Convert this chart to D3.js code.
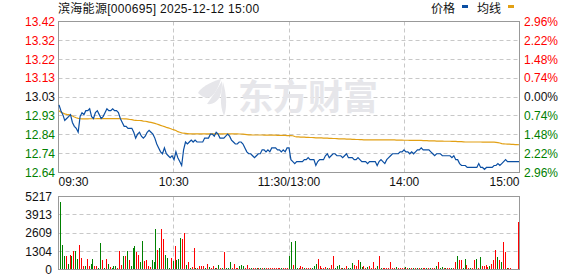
<!DOCTYPE html>
<html>
<head>
<meta charset="utf-8">
<script src="https://cdn.jsdelivr.net/npm/d3@7"></script>
<style>
  body { margin: 0; background: #fff; }
  text { font-family: "Liberation Sans", Arial, "Noto Sans CJK SC", sans-serif; font-size: 12px; }
</style>
</head>
<body>
<svg id="chart" width="578" height="276"></svg>
<script>
// intraday chart: price + average line, volume below

const title = "滨海能源[000695] 2025-12-12 15:00";
const prevClose = 13.03;
const maxPct = 2.96;
const volMax = 5217;

const priceTicks = ["13.42", "13.32", "13.22", "13.13", "13.03", "12.93", "12.84", "12.74", "12.64"];
const pctTicks = ["2.96%", "2.22%", "1.48%", "0.74%", "0.00%", "0.74%", "1.48%", "2.22%", "2.96%"];
const volTicks = ["5217", "3913", "2609", "1304", "0"];
const timeTicks = ["09:30", "10:30", "11:30/13:00", "14:00", "15:00"];
const timeTickIdx = [0, 60, 120, 180, 240];

// one value per minute, 09:30 .. 11:30, 13:01 .. 15:00
const prices = [
  12.99,12.96,12.94,12.91,12.92,12.93,12.94,12.90,12.88,12.87,
  12.85,12.93,12.95,12.94,12.96,12.96,12.97,12.93,12.92,12.95,
  12.96,12.94,12.92,12.93,12.95,12.97,12.96,12.96,12.97,12.96,
  12.96,12.95,12.92,12.90,12.88,12.88,12.87,12.87,12.87,12.85,
  12.82,12.84,12.85,12.83,12.82,12.83,12.85,12.86,12.85,12.84,
  12.82,12.79,12.77,12.75,12.74,12.77,12.74,12.73,12.72,12.73,
  12.71,12.75,12.72,12.70,12.68,12.76,12.80,12.79,12.80,12.81,
  12.80,12.81,12.80,12.80,12.80,12.80,12.82,12.82,12.82,12.84,
  12.84,12.83,12.85,12.84,12.82,12.82,12.82,12.83,12.84,12.83,
  12.81,12.80,12.79,12.79,12.80,12.80,12.79,12.77,12.75,12.74,
  12.74,12.73,12.72,12.73,12.74,12.74,12.76,12.76,12.75,12.76,
  12.75,12.77,12.77,12.77,12.76,12.76,12.75,12.76,12.75,12.77,
  12.77,12.71,12.70,12.69,12.70,12.70,12.70,12.70,12.71,12.71,
  12.72,12.71,12.71,12.71,12.68,12.70,12.71,12.71,12.71,12.73,
  12.74,12.72,12.73,12.74,12.74,12.73,12.73,12.73,12.72,12.73,
  12.74,12.72,12.72,12.72,12.71,12.71,12.72,12.71,12.70,12.70,
  12.70,12.69,12.70,12.70,12.70,12.70,12.68,12.70,12.71,12.70,
  12.69,12.71,12.72,12.73,12.74,12.74,12.74,12.74,12.75,12.75,
  12.76,12.75,12.75,12.74,12.75,12.74,12.75,12.76,12.76,12.77,
  12.76,12.76,12.76,12.76,12.75,12.74,12.73,12.74,12.74,12.74,
  12.73,12.73,12.73,12.73,12.73,12.72,12.73,12.71,12.71,12.69,
  12.68,12.68,12.68,12.67,12.67,12.67,12.67,12.67,12.67,12.69,
  12.67,12.67,12.66,12.67,12.67,12.67,12.67,12.68,12.68,12.69,
  12.68,12.69,12.70,12.71,12.70,12.70,12.70,12.70,12.70,12.70,
  12.70
];

const avgPrices = [
  12.960,12.952,12.948,12.944,12.941,12.940,12.938,12.933,12.928,12.924,
  12.921,12.919,12.918,12.918,12.918,12.918,12.919,12.919,12.919,12.919,
  12.920,12.920,12.920,12.920,12.920,12.920,12.920,12.920,12.920,12.920,
  12.920,12.920,12.919,12.919,12.918,12.918,12.917,12.915,12.914,12.912,
  12.911,12.910,12.910,12.909,12.907,12.906,12.904,12.902,12.900,12.898,
  12.895,12.892,12.889,12.885,12.882,12.879,12.875,12.872,12.869,12.865,
  12.862,12.859,12.853,12.850,12.847,12.845,12.844,12.843,12.842,12.842,
  12.842,12.842,12.842,12.842,12.842,12.842,12.842,12.842,12.842,12.842,
  12.842,12.842,12.842,12.842,12.842,12.842,12.842,12.842,12.842,12.842,
  12.842,12.842,12.842,12.842,12.841,12.841,12.840,12.839,12.838,12.837,
  12.837,12.836,12.836,12.836,12.836,12.836,12.836,12.835,12.835,12.835,
  12.835,12.835,12.835,12.835,12.834,12.834,12.834,12.834,12.834,12.833,
  12.833,12.833,12.832,12.828,12.826,12.826,12.825,12.825,12.825,12.824,
  12.824,12.823,12.823,12.822,12.821,12.821,12.821,12.821,12.820,12.820,
  12.820,12.819,12.819,12.818,12.818,12.817,12.816,12.816,12.816,12.816,
  12.815,12.815,12.815,12.814,12.814,12.813,12.813,12.812,12.812,12.811,
  12.811,12.811,12.811,12.811,12.811,12.811,12.811,12.811,12.811,12.811,
  12.811,12.811,12.811,12.811,12.811,12.811,12.810,12.810,12.810,12.810,
  12.809,12.809,12.809,12.808,12.808,12.808,12.808,12.808,12.808,12.808,
  12.807,12.807,12.807,12.806,12.806,12.806,12.806,12.805,12.805,12.805,
  12.805,12.804,12.804,12.804,12.804,12.803,12.803,12.803,12.802,12.802,
  12.802,12.801,12.800,12.800,12.800,12.800,12.800,12.800,12.800,12.800,
  12.800,12.799,12.799,12.799,12.799,12.799,12.799,12.799,12.798,12.797,
  12.795,12.792,12.791,12.790,12.789,12.789,12.788,12.788,12.787,12.787,
  12.786
];

const volumes = [
  4818,1763,940,987,423,1058,987,1293,1293,752,
  1763,822,282,235,752,282,423,752,235,282,
  118,1927,658,47,752,423,188,47,282,235,
  118,1293,352,987,940,1293,658,235,1528,1692,
  1222,1058,517,2068,587,705,282,188,705,517,
  2867,1410,1528,2867,2162,1058,822,47,822,587,
  1692,705,752,2233,2162,2632,352,517,118,188,
  1528,118,47,282,282,235,47,423,188,47,
  235,47,118,352,47,118,1222,47,47,517,
  118,423,47,47,282,352,282,47,352,118,
  47,118,47,47,118,47,47,118,47,47,
  47,47,118,47,47,47,47,47,47,47,
  987,1998,352,2068,47,47,282,188,47,118,
  47,47,118,282,423,752,282,47,47,188,
  47,47,352,987,47,282,352,47,47,47,
  282,118,47,470,329,282,705,564,188,282,
  47,188,282,47,517,47,282,987,47,47,
  118,47,47,517,47,47,188,47,47,118,
  118,188,118,47,47,47,47,47,118,47,
  47,47,118,47,47,47,47,282,517,47,
  188,47,47,47,118,47,118,517,987,658,
  705,47,752,352,47,47,47,705,752,118,
  893,282,282,352,188,282,423,705,1410,917,
  705,564,1974,1269,47,47,47,0,0,0,
  3384
];

// 1 = up minute (red bar), 0 = down minute (green bar)
const volUp = [
  0,0,0,1,0,1,0,1,0,0,
  1,1,1,0,1,1,0,0,1,1,
  0,0,1,0,1,0,1,0,0,0,
  1,1,1,0,1,0,1,0,0,0,
  1,1,0,0,1,1,1,1,0,0,
  0,1,0,1,1,0,0,0,1,0,
  1,0,0,0,1,1,0,1,0,1,
  1,0,1,1,1,1,0,1,0,1,
  1,0,1,0,1,0,1,0,0,0,
  1,1,1,1,0,0,0,1,1,1,
  0,1,1,0,1,0,1,0,1,1,
  1,1,1,1,1,1,0,1,1,1,
  0,0,1,0,0,1,1,1,0,1,
  1,1,0,0,0,1,1,1,1,1,
  0,1,1,1,0,0,0,1,0,1,
  1,0,0,0,1,1,1,0,0,1,
  1,0,1,1,1,1,0,1,0,1,
  1,1,1,1,1,1,0,1,1,1,
  1,0,1,0,1,0,1,0,1,0,
  1,1,0,1,0,1,1,0,1,0,
  0,1,0,1,1,0,1,1,0,1,
  1,0,0,1,1,0,1,1,0,1,
  0,1,1,1,1,0,1,1,1,0,
  1,0,1,1,0,1,1,1,1,1,
  1
];

const left = 58.5, right = 519.5;
const priceTop = 21.5, priceBottom = 172.5;
const volTop = 196.5, volBottom = 269.5;
const red = "#ff0000", green = "#008000", dark = "#111";

const svg = d3.select("#chart");
svg.append("rect").attr("width", 578).attr("height", 276).attr("fill", "#fff");

const x = d3.scaleLinear().domain([0, 240]).range([left, right]);
const xLine = d3.scaleLinear().domain([0, 240]).range([59, 519]);
const xBar = d3.scaleLinear().domain([0, 240]).range([60, 518]);
const y = d3.scaleLinear()
  .domain([prevClose * (1 - maxPct / 100), prevClose * (1 + maxPct / 100)])
  .range([priceBottom, priceTop]);
const yTick = d3.scalePoint().domain(d3.range(priceTicks.length)).range([priceTop, priceBottom]);
const yVol = d3.scaleLinear().domain([0, volMax]).range([volBottom, volTop]);
const yVolTick = d3.scalePoint().domain(d3.range(volTicks.length)).range([volTop, volBottom]);

const crisp = v => Math.floor(v) + 0.5;

// grid
const grid = svg.append("g").attr("stroke", "#c8c8c8").attr("stroke-dasharray", "4,3").attr("fill", "none");
d3.range(1, priceTicks.length - 1).forEach(k => {
  grid.append("line").attr("x1", left).attr("x2", right)
    .attr("y1", crisp(yTick(k))).attr("y2", crisp(yTick(k)));
});
d3.range(1, volTicks.length - 1).forEach(k => {
  grid.append("line").attr("x1", left).attr("x2", right)
    .attr("y1", crisp(yVolTick(k))).attr("y2", crisp(yVolTick(k)));
});
timeTickIdx.slice(1, -1).forEach(i => {
  const gx = crisp(x(i));
  grid.append("line").attr("x1", gx).attr("x2", gx).attr("y1", priceTop).attr("y2", priceBottom);
  grid.append("line").attr("x1", gx).attr("x2", gx).attr("y1", volTop).attr("y2", volBottom);
});

// watermark (sits over the grid)
const wm = svg.append("g").attr("fill", "#e6e6ea");
wm.append("path").attr("d", "M221,79 C210,82 200,88 198,93 C203,98 208,99 212,96 C216,92 219,86 221,79 Z");
wm.append("path").attr("d", "M222,81 C217,90 211,98 207,104 C213,105 218,101 220,96 C222,91 222,86 222,81 Z");
wm.append("path").attr("d", "M223,82 C221,93 219,104 224,116 C227,108 227,96 223,82 Z");
wm.append("text").attr("x", 238).attr("y", 110)
  .style("font-family", "'Noto Sans CJK SC', sans-serif").style("font-size", "35px").style("font-weight", "bold")
  .text("东方财富");

// frames
svg.append("rect").attr("x", left).attr("y", priceTop)
  .attr("width", right - left).attr("height", priceBottom - priceTop)
  .attr("fill", "none").attr("stroke", "#999");
svg.append("rect").attr("x", left).attr("y", volTop)
  .attr("width", right - left).attr("height", volBottom - volTop)
  .attr("fill", "none").attr("stroke", "#999");

// lines
svg.append("path").datum(avgPrices)
  .attr("fill", "none").attr("stroke", "#e2a014").attr("stroke-width", 1.2)
  .attr("d", d3.line().x((d, i) => xLine(i)).y(d => y(d)));
svg.append("path").datum(prices)
  .attr("fill", "none").attr("stroke", "#0b4fa3").attr("stroke-width", 1.2)
  .attr("d", d3.line().x((d, i) => xLine(i)).y(d => y(d)));

// volume bars
svg.append("g").selectAll("rect")
  .data(volumes)
  .enter().append("rect")
  .attr("x", (d, i) => Math.round(xBar(i)))
  .attr("width", 1)
  .attr("y", d => d > 0 ? Math.min(Math.round(yVol(d)), volBottom - 1.5) : volBottom)
  .attr("height", d => d > 0 ? Math.max(1, volBottom - 0.5 - Math.min(Math.round(yVol(d)), volBottom - 1.5)) : 0)
  .attr("fill", (d, i) => volUp[i] ? red : green);

// price labels
const colorFor = k => k < 4 ? red : (k === 4 ? dark : green);
svg.append("g").selectAll("text")
  .data(priceTicks)
  .enter().append("text")
  .attr("x", 55).attr("y", (d, k) => yTick(k)).attr("dy", "0.36em")
  .attr("text-anchor", "end")
  .attr("fill", (d, k) => colorFor(k))
  .text(d => d);
svg.append("g").selectAll("text")
  .data(pctTicks)
  .enter().append("text")
  .attr("x", 524).attr("y", (d, k) => yTick(k)).attr("dy", "0.36em")
  .attr("fill", (d, k) => colorFor(k))
  .text(d => d);

// volume labels
svg.append("g").selectAll("text")
  .data(volTicks)
  .enter().append("text")
  .attr("x", 52).attr("y", (d, k) => yVolTick(k)).attr("dy", "0.36em")
  .attr("text-anchor", "end").attr("fill", dark)
  .text(d => d);

// time labels
svg.append("g").selectAll("text")
  .data(timeTicks)
  .enter().append("text")
  .attr("x", (d, k) => k === 0 ? left : (k === timeTicks.length - 1 ? right : x(timeTickIdx[k])))
  .attr("y", 186)
  .attr("text-anchor", (d, k) => k === 0 ? "start" : (k === timeTicks.length - 1 ? "end" : "middle"))
  .attr("fill", dark)
  .text(d => d);

// title & legend
svg.append("text").attr("x", 58).attr("y", 13).attr("fill", dark)
  .style("letter-spacing", "0.3px").text(title);
svg.append("text").attr("x", 431).attr("y", 13).attr("fill", dark).text("价格");
svg.append("rect").attr("x", 462).attr("y", 5).attr("width", 6).attr("height", 3).attr("fill", "#0b4fa3");
svg.append("text").attr("x", 477).attr("y", 13).attr("fill", dark).text("均线");
svg.append("rect").attr("x", 508).attr("y", 5).attr("width", 6).attr("height", 3).attr("fill", "#e2a014");
</script>
</body>
</html>
